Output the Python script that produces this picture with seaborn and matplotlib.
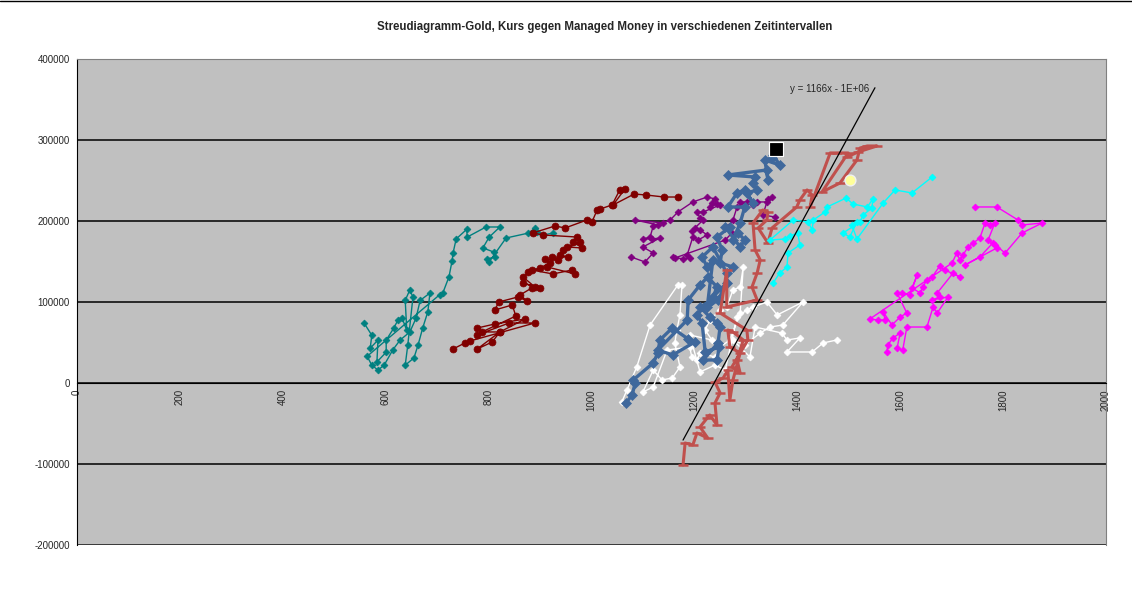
import numpy as np
import pandas as pd
import seaborn as sns
import matplotlib.pyplot as plt
from matplotlib.lines import Line2D

# Streudiagramm Gold: Kurs (x) gegen Managed Money (y), je Zeitintervall eine Serie

teal_x = [558, 573, 570, 585, 583, 601, 601, 616, 624, 632, 641, 638, 647, 653, 643, 638, 655, 663,
          672, 682, 686, 667, 659, 647, 628, 614, 597, 585, 573, 564, 705, 711, 723, 729, 731, 737,
          758, 758, 795, 822, 801, 789, 810, 812, 797, 801, 834, 877, 890, 894, 906, 925]
teal_y = [74000, 59000, 43000, 53000, 26000, 38000, 53000, 68000, 78000, 80000, 65000, 102000, 115000,
          106000, 47000, 22000, 31000, 47000, 68000, 88000, 111000, 102000, 80000, 63000, 53000, 41000,
          22000, 16000, 22000, 33000, 109000, 111000, 131000, 150600, 160500, 177800, 190000, 180000,
          192600, 192600, 180000, 166700, 161700, 155600, 153000, 149400, 179000, 185000, 191000,
          186000, 182700, 185000]

darkred_x = [731, 754, 764, 890, 840, 778, 778, 812, 871, 822, 778, 807, 822, 787, 853, 846, 812, 820,
             857, 875, 861, 884, 900, 867, 890, 867, 877, 914, 968, 962, 925, 884, 900, 919, 910, 935,
             923, 954, 939, 945, 978, 952, 982, 964, 972, 906, 886, 929, 949, 991, 1001, 1011, 1017,
             1040, 1055, 1065, 1042, 1083, 1106, 1141, 1168]
darkred_y = [42000, 49400, 51900, 74100, 74100, 59300, 67900, 72800, 79000, 63000, 42000, 50600, 63000,
             63000, 82700, 96300, 90100, 100000, 106200, 101200, 108600, 117300, 117300, 123500, 118500,
             130900, 137000, 143200, 134600, 139500, 134600, 139500, 142000, 148200, 153100, 151900,
             155600, 155600, 158000, 164200, 174100, 167900, 166700, 174100, 180200, 182700, 185200,
             193800, 191400, 201200, 198800, 213600, 214800, 219800, 238300, 239500, 219800, 233300,
             232100, 229600, 229600]

purple_x = [1077, 1104, 1120, 1100, 1133, 1118, 1100, 1114, 1120, 1129, 1085, 1139, 1153, 1168, 1197,
            1225, 1240, 1234, 1230, 1244, 1250, 1217, 1205, 1211, 1217, 1201, 1195, 1211, 1225, 1207,
            1197, 1186, 1191, 1178, 1158, 1162, 1260, 1273, 1265, 1275, 1283, 1302, 1289, 1314, 1322,
            1341, 1351, 1343, 1333, 1357]
purple_y = [155600, 149400, 160500, 167900, 179000, 177800, 177800, 180200, 193800, 195100, 201200,
            197500, 201200, 211100, 223500, 229600, 227200, 222200, 217300, 221000, 219800, 211100,
            211100, 203700, 201200, 191400, 187700, 188900, 182700, 176500, 180200, 158000, 154300,
            153100, 155600, 154300, 176500, 185200, 192600, 201200, 217300, 223500, 223500, 219800,
            223500, 223500, 229600, 227200, 207400, 204900]

blue_x = [1067, 1079, 1085, 1081, 1120, 1129, 1133, 1157, 1188, 1201, 1158, 1129, 1186, 1188, 1211,
          1226, 1244, 1234, 1211, 1230, 1244, 1250, 1246, 1217, 1244, 1248, 1221, 1215, 1205, 1236,
          1263, 1246, 1225, 1236, 1225, 1215, 1236, 1263, 1275, 1250, 1254, 1244, 1269, 1260, 1289,
          1298, 1285, 1275, 1289, 1298, 1265, 1283, 1298, 1314, 1302, 1322, 1314, 1318, 1265, 1341,
          1343, 1337, 1366, 1353, 1351]
blue_y = [-24700, -14800, 0, 3700, 24700, 37000, 53100, 67900, 54300, 50600, 34600, 40700, 77800,
          102500, 121000, 130900, 118500, 102500, 93800, 81500, 74100, 69100, 49400, 28400, 28400,
          44400, 38300, 74100, 84000, 106200, 123500, 102500, 93800, 151900, 143200, 155600, 167900,
          135800, 143200, 148200, 164200, 180200, 192600, 192600, 167900, 176500, 185200, 176500,
          197500, 217300, 217300, 234600, 238300, 222200, 234600, 238300, 246900, 254300, 256800,
          263000, 250600, 275300, 269100, 281500, 277800]

white_x = [1059, 1069, 1088, 1114, 1168, 1176, 1172, 1166, 1162, 1172, 1157, 1137, 1120, 1100, 1120,
           1147, 1191, 1195, 1205, 1211, 1240, 1250, 1269, 1289, 1295, 1289, 1275, 1263, 1250, 1230,
           1221, 1234, 1191, 1211, 1240, 1260, 1283, 1302, 1314, 1341, 1361, 1411, 1372, 1347, 1328,
           1298, 1275, 1308, 1318, 1370, 1380, 1405, 1380, 1429, 1450, 1477]
white_y = [-23500, -8600, 19800, 71600, 121000, 121000, 84000, 65400, 49400, 19800, 6200, 3700, 16000,
           -11100, -4900, 40700, 44400, 32100, 28400, 37000, 32100, 44400, 53100, 86400, 143200, 118500,
           114800, 93800, 90100, 77800, 65400, 53100, 59300, 13600, 22200, 16000, 81500, 90100, 93800,
           100000, 84000, 100000, 71600, 69100, 61700, 46900, 53100, 32100, 69100, 61700, 53100, 55600,
           38300, 38300, 49400, 53100]

red_x = [1178, 1182, 1197, 1205, 1226, 1211, 1225, 1230, 1244, 1240, 1250, 1240, 1256, 1265, 1269,
         1275, 1289, 1269, 1265, 1275, 1295, 1283, 1289, 1273, 1304, 1302, 1250, 1263, 1263, 1322,
         1312, 1322, 1328, 1318, 1314, 1333, 1343, 1341, 1324, 1343, 1351, 1399, 1405, 1419, 1429,
         1425, 1464, 1477, 1499, 1448, 1483, 1516, 1522, 1536, 1555, 1518, 1497]
red_y = [-101200, -74100, -76500, -61700, -67900, -54300, -43200, -39500, -51900, -24700, -12300, 1200,
         6200, 16000, -21000, 3700, 37000, 44400, 65400, 63000, 53100, 28400, 12300, 19800, 53100,
         65400, 86400, 139500, 93800, 102500, 118500, 135800, 151900, 164200, 197500, 213600, 211100,
         201200, 191400, 172800, 191400, 217300, 225900, 238300, 232100, 217300, 284000, 284000,
         284000, 235800, 246900, 275300, 290100, 292600, 292600, 285200, 279000]

cyan_x = [1353, 1366, 1380, 1382, 1405, 1401, 1386, 1376, 1347, 1392, 1421, 1429, 1431, 1454, 1458,
          1495, 1508, 1536, 1547, 1545, 1528, 1522, 1489, 1502, 1516, 1506, 1516, 1567, 1590, 1623, 1662]
cyan_y = [123500, 135800, 143200, 160500, 170400, 185200, 181500, 177800, 176500, 201200, 198800,
          188900, 201200, 211100, 217300, 228400, 221000, 217300, 227200, 216000, 207400, 198800,
          185200, 180200, 198800, 195100, 177800, 222200, 238300, 234600, 254300]

magenta_x = [1574, 1576, 1586, 1600, 1594, 1605, 1613, 1652, 1664, 1672, 1693, 1662, 1677, 1672, 1703,
             1716, 1687, 1677, 1662, 1652, 1644, 1639, 1623, 1633, 1619, 1604, 1594, 1613, 1600, 1584,
             1567, 1571, 1557, 1541, 1701, 1710, 1716, 1722, 1732, 1742, 1755, 1765, 1775, 1784, 1771,
             1784, 1788, 1726, 1755, 1780, 1804, 1837, 1876, 1837, 1829, 1788, 1745]
magenta_y = [38300, 46900, 55600, 61700, 43200, 40700, 69100, 69100, 93800, 86400, 106200, 102500,
             106200, 111100, 135800, 130900, 139500, 144400, 130900, 127200, 118500, 111100, 117300,
             133300, 108600, 111100, 111100, 86400, 81500, 71600, 87700, 77800, 77800, 79000, 148200,
             160500, 151900, 158000, 167900, 172800, 179000, 197500, 195100, 197500, 176500, 170400,
             166700, 145700, 155600, 172800, 160500, 185200, 197500, 195100, 201200, 217300, 217300]

aktuell_x, aktuell_y = [1359], [288900]
marker_x, marker_y = [1502], [250600]

trend_slope = 1166
trend_intercept = -1444000
trend_range = [1178, 1551]

x_ticks = list(range(0, 2001, 200))
y_ticks = list(range(-200000, 400001, 100000))

sns.set_style('white')
plt.rcParams['font.family'] = ['Liberation Sans', 'DejaVu Sans']

fig = plt.figure(figsize=(11.32, 6.08), dpi=100)
ax = fig.add_axes([0.068, 0.1036, 0.909, 0.7994])
ax.set_facecolor('#C0C0C0')

series = [
    (teal_x, teal_y, '#008080', 'D', 3.5, 1.0),
    (darkred_x, darkred_y, '#800000', 'o', 5.0, 1.0),
    (purple_x, purple_y, '#800080', 'D', 3.5, 1.0),
    (white_x, white_y, '#FFFFFF', 'D', 3.5, 1.0),
    (blue_x, blue_y, '#3F689C', 'D', 5.0, 2.4),
    (red_x, red_y, '#C0504D', '_', 7.0, 2.2),
    (cyan_x, cyan_y, '#00FFFF', 'D', 3.5, 1.0),
    (magenta_x, magenta_y, '#FF00FF', 'D', 3.5, 1.0),
]
for xs, ys, col, mk, ms, lw in series:
    df = pd.DataFrame({'kurs': xs, 'mm': ys})
    sns.lineplot(data=df, x='kurs', y='mm', sort=False, estimator=None, color=col, marker=mk,
                 markersize=ms, linewidth=lw, markeredgecolor=col,
                 markeredgewidth=1.8 if mk == '_' else 0.5, ax=ax, zorder=3)

sns.scatterplot(x=aktuell_x, y=aktuell_y, marker='s', s=110, color='black', ax=ax, zorder=5)
sns.scatterplot(x=marker_x, y=marker_y, marker='o', s=60, color='#FFFF99', edgecolor='#F0F0F0',
                linewidth=1, ax=ax, zorder=5)

# Trendlinie
tx = np.array(trend_range)
ax.plot(tx, trend_slope * tx + trend_intercept, color='black', linewidth=0.9, zorder=4)
ax.text(1385, 363000, 'y = 1166x - 1E+06', fontsize=7, ha='left', va='center')

# Achse bei y = 0 wie in Excel
ax.spines['bottom'].set_position(('data', 0))
ax.spines['bottom'].set_color('black')
ax.spines['left'].set_color('black')
for s in ['top', 'right']:
    ax.spines[s].set_color('#808080')
ax.add_line(Line2D([0, 1], [0, 0], transform=ax.transAxes, color='#808080', linewidth=1, zorder=1))

ax.set_xlim(0, 2000)
ax.set_ylim(-200000, 400000)
ax.set_xticks(x_ticks)
ax.set_yticks(y_ticks)
ax.set_xticklabels([str(v) for v in x_ticks], rotation=90, fontsize=7)
ax.set_yticklabels([str(v) for v in y_ticks], fontsize=7)
ax.tick_params(axis='y', length=3, width=0.8, color='black', pad=2, direction='out')
ax.tick_params(axis='x', length=5, width=0.8, color='black', pad=2, direction='inout')
ax.yaxis.grid(True, color='black', linewidth=1.1)
ax.xaxis.grid(False)
ax.set_axisbelow(True)
ax.set_xlabel('')
ax.set_ylabel('')

fig.text(0.534, 0.955, 'Streudiagramm-Gold, Kurs gegen Managed Money in verschiedenen Zeitintervallen',
         ha='center', va='center', fontsize=8.3, fontweight='bold')
fig.add_artist(Line2D([0, 1], [0.998, 0.998], color='black', linewidth=1))

fig.savefig('out.png', dpi=100)
